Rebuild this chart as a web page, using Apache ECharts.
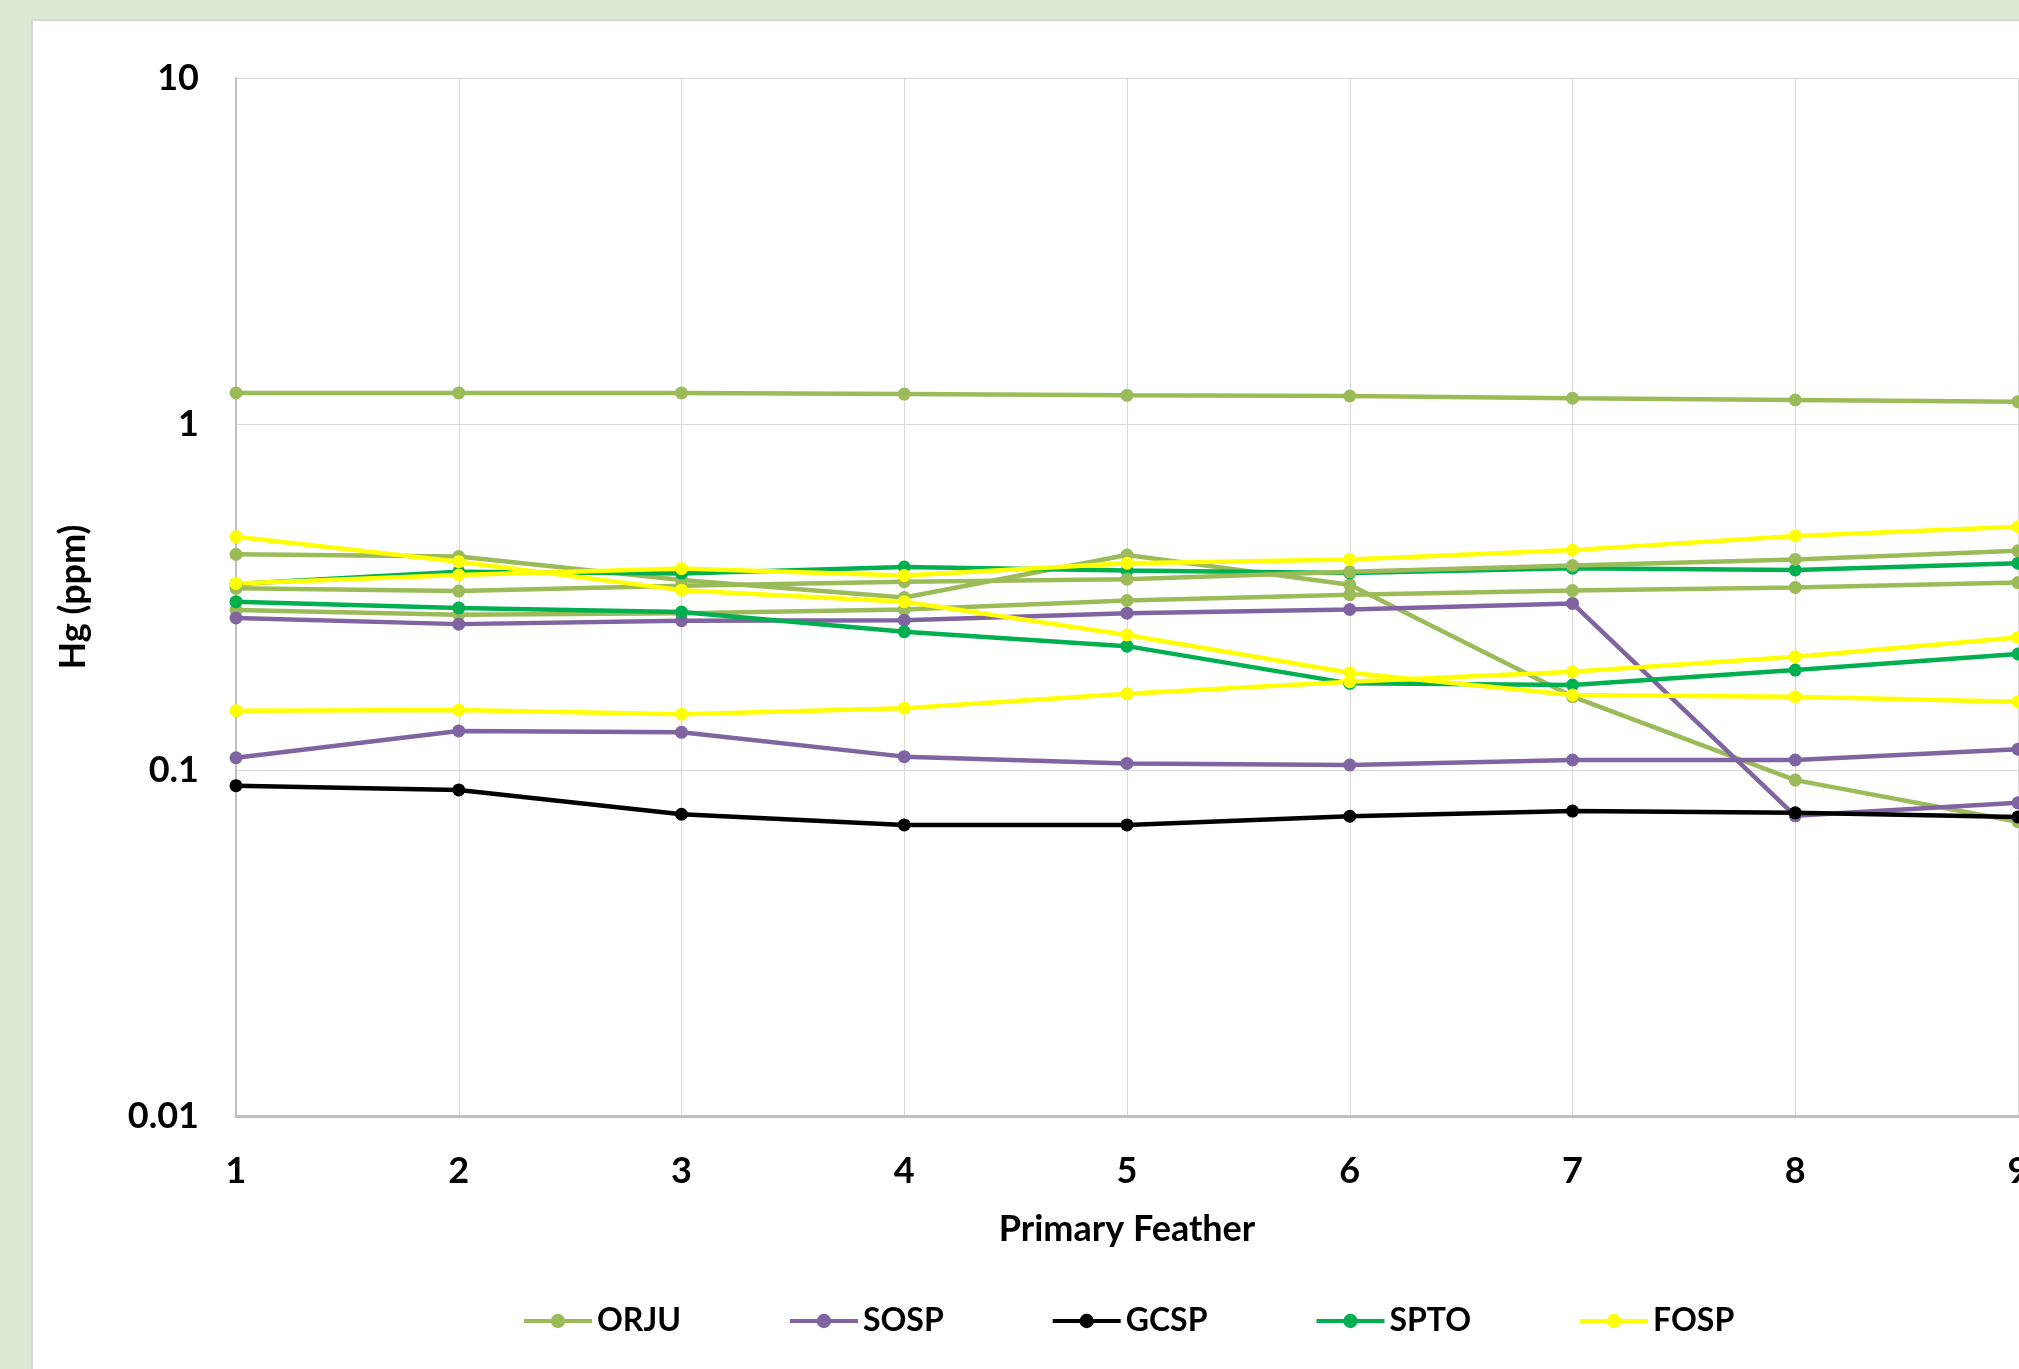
<!DOCTYPE html>
<html>
<head>
<meta charset="utf-8">
<script src="https://cdn.jsdelivr.net/npm/echarts@6/dist/echarts.min.js"></script>
<style>
  html, body { margin: 0; padding: 0; width: 2019px; height: 1369px; overflow: hidden; background: #d9e9d3; }
  #box { position: absolute; left: 31px; top: 19px; width: 2100px; height: 1400px; background: #ffffff; border: 2px solid #d6d6d6; box-sizing: border-box; }
  #chart { position: absolute; left: 0; top: 0; width: 2019px; height: 1369px; }
</style>
</head>
<body>
<div id="box"></div>
<div id="chart"></div>
<script>
// Primary feather number (x axis)
const categories = ['1', '2', '3', '4', '5', '6', '7', '8', '9'];

// Hg (ppm) per individual bird, by species
const ORJU_1 = [1.23, 1.23, 1.23, 1.22, 1.21, 1.205, 1.187, 1.173, 1.16];
const ORJU_2 = [0.420, 0.414, 0.354, 0.315, 0.418, 0.343, 0.163, 0.0935, 0.0709];
const ORJU_3 = [0.335, 0.329, 0.341, 0.350, 0.356, 0.374, 0.390, 0.406, 0.430];
const ORJU_4 = [0.290, 0.281, 0.284, 0.291, 0.309, 0.321, 0.330, 0.337, 0.348];
const SOSP_1 = [0.275, 0.264, 0.270, 0.271, 0.284, 0.291, 0.303, 0.0737, 0.0804];
const SOSP_2 = [0.1085, 0.1297, 0.1285, 0.1093, 0.1045, 0.1034, 0.1069, 0.1069, 0.1148];
const GCSP_1 = [0.0901, 0.0876, 0.0745, 0.0694, 0.0694, 0.0735, 0.0761, 0.0752, 0.0732];
const SPTO_1 = [0.3065, 0.294, 0.286, 0.251, 0.228, 0.178, 0.176, 0.1945, 0.2164];
const SPTO_2 = [0.345, 0.374, 0.370, 0.386, 0.377, 0.371, 0.383, 0.3786, 0.396];
const FOSP_1 = [0.472, 0.400, 0.331, 0.3065, 0.2456, 0.191, 0.1647, 0.1629, 0.1575];
const FOSP_2 = [0.346, 0.366, 0.382, 0.365, 0.396, 0.406, 0.432, 0.4746, 0.505];
const FOSP_3 = [0.1484, 0.149, 0.145, 0.1508, 0.166, 0.180, 0.1924, 0.2126, 0.2417];

// Y axis tick values (log scale)
const yTicks = [0.01, 0.1, 1, 10];

const species = ['ORJU', 'SOSP', 'GCSP', 'SPTO', 'FOSP'];
const colors = { ORJU: '#9BBB59', SOSP: '#8064A2', GCSP: '#000000', SPTO: '#00B050', FOSP: '#FFFF00' };

// drawing order (later = on top)
const seriesList = [
  ['ORJU', ORJU_1], ['ORJU', ORJU_2], ['ORJU', ORJU_4],
  ['SOSP', SOSP_1], ['SOSP', SOSP_2],
  ['GCSP', GCSP_1],
  ['SPTO', SPTO_1], ['SPTO', SPTO_2],
  ['ORJU', ORJU_3],
  ['FOSP', FOSP_1], ['FOSP', FOSP_2], ['FOSP', FOSP_3]
];

const FONT = 'Lato';

const chart = echarts.init(document.getElementById('chart'), null, { renderer: 'canvas' });
chart.setOption({
  animation: false,
  backgroundColor: 'transparent',
  textStyle: { fontFamily: FONT },
  grid: { left: 236, right: 1, top: 78, bottom: 253, containLabel: false, outerBoundsMode: 'none' },
  legend: {
    data: species,
    left: 517,
    top: 1300,
    itemWidth: 68,
    itemHeight: 18,
    itemGap: 107,
    lineStyle: { width: 4 },
    textStyle: { fontFamily: FONT, fontSize: 32, fontWeight: 'bold', color: '#000000' }
  },
  xAxis: {
    type: 'category',
    data: categories,
    boundaryGap: false,
    name: 'Primary Feather',
    nameLocation: 'middle',
    nameGap: 95,
    nameTextStyle: { fontFamily: FONT, fontSize: 36, fontWeight: 'bold', color: '#000000' },
    axisLine: { lineStyle: { color: '#bfbfbf', width: 3 } },
    axisTick: { show: false },
    axisLabel: { margin: 37, fontFamily: FONT, fontSize: 36, fontWeight: 'bold', color: '#000000', hideOverlap: false },
    splitLine: { show: true, lineStyle: { color: '#d9d9d9', width: 1 } }
  },
  yAxis: {
    type: 'log',
    logBase: 10,
    min: yTicks[0],
    max: yTicks[yTicks.length - 1],
    name: 'Hg (ppm)',
    nameLocation: 'middle',
    nameRotate: 90,
    nameGap: 145,
    nameTextStyle: { fontFamily: FONT, fontSize: 36, fontWeight: 'bold', color: '#000000' },
    axisLine: { show: true, lineStyle: { color: '#bfbfbf', width: 2 } },
    axisTick: { show: false },
    axisLabel: {
      margin: 37, fontFamily: FONT, fontSize: 36, fontWeight: 'bold', color: '#000000',
      formatter: function (v) { return String(+v.toPrecision(3)); }
    },
    splitLine: { show: true, lineStyle: { color: '#d9d9d9', width: 1 } },
    minorSplitLine: { show: false }
  },
  series: seriesList.map(function (s) {
    return {
      name: s[0],
      type: 'line',
      data: s[1],
      symbol: 'circle',
      symbolSize: 13,
      showSymbol: true,
      clip: false,
      lineStyle: { color: colors[s[0]], width: 4.5 },
      itemStyle: { color: colors[s[0]] },
      emphasis: { disabled: true }
    };
  })
});
</script>
</body>
</html>
